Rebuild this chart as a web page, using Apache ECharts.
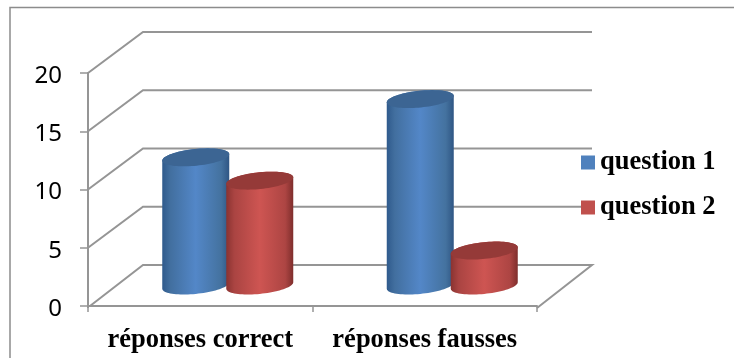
<!DOCTYPE html>
<html>
<head>
<meta charset="utf-8">
<style>
  html, body { margin: 0; padding: 0; background: #fff; }
  #chart { width: 734px; height: 358px; }
</style>
</head>
<body>
<div id="chart"></div>
<script src="https://cdn.jsdelivr.net/npm/echarts@6/dist/echarts.min.js"></script>
<script>
const categories = ['réponses correct', 'réponses fausses'];
const question1 = [11, 16];
const question2 = [9, 3];
const yTicks = [0, 5, 10, 15, 20];

const lineColor = '#959595';
// depth of the fake 3d box, in pixels
const depthX = 55;
const depthY = -41;
const floorDrop = 2;
const barHalf = 33.5;
const barOffset = 32;
const skewX = 12;
const skewY = 9;

const blueStops = ['#2f5a8c', '#426f9f', '#5387c8', '#44729f', '#2f5684'];
const redStops = ['#8a3331', '#aa4442', '#ce5552', '#ad4543', '#7f2e2c'];

function renderWall(params, api) {
  const v = api.value(1);
  const band = api.size([1, 0])[0];
  const p = api.coord([0, v]);
  const left = p[0] - band / 2;
  const right = left + band * categories.length;
  const lineStyle = { stroke: lineColor, lineWidth: 2, fill: null };
  const points = v === 0
    ? [[left + 2, p[1]], [left + depthX, p[1] + depthY], [right + depthX, p[1] + depthY], [right, p[1] + floorDrop]]
    : [[left, p[1]], [left + depthX, p[1] + depthY], [right + depthX, p[1] + depthY]];
  const children = [{ type: 'polyline', shape: { points }, style: lineStyle }];
  if (v === 0) {
    children.push({ type: 'line', shape: { x1: left, y1: p[1] - 1, x2: left, y2: p[1] + floorDrop }, style: lineStyle });
  }
  return { type: 'group', children };
}

// ring of a sheared circle lying on the floor plane
function ringPoint(cx, cy, t) {
  const w = Math.sqrt(barHalf * barHalf - skewX * skewX);
  return [cx + w * Math.cos(t) + skewX * Math.sin(t), cy - skewY * Math.sin(t)];
}

function makeCylinder(offsetSign, stops, capColor) {
  return function (params, api) {
    const cat = api.value(0);
    const top = api.coord([cat, api.value(1)]);
    const base = api.coord([cat, 0]);
    const cx = top[0] + depthX / 2 + offsetSign * barOffset;
    const topY = top[1] + depthY / 2;
    const baseY = base[1] + depthY / 2;
    // angle of the right-most point on the ring
    const t0 = Math.atan2(skewX, Math.sqrt(barHalf * barHalf - skewX * skewX));
    const body = [];
    for (let i = 0; i <= 40; i++) {
      body.push(ringPoint(cx, topY, t0 + (Math.PI * i) / 40));
    }
    for (let i = 0; i <= 40; i++) {
      body.push(ringPoint(cx, baseY, t0 + Math.PI + (Math.PI * i) / 40));
    }
    const cap = [];
    for (let i = 0; i < 80; i++) {
      cap.push(ringPoint(cx, topY, (i / 80) * Math.PI * 2));
    }
    return {
      type: 'group',
      children: [
        {
          type: 'polygon',
          shape: { points: body },
          style: {
            fill: new echarts.graphic.LinearGradient(0, 0, 1, 0, [
              { offset: 0, color: stops[0] },
              { offset: 0.12, color: stops[1] },
              { offset: 0.5, color: stops[2] },
              { offset: 0.88, color: stops[3] },
              { offset: 1, color: stops[4] }
            ])
          }
        },
        { type: 'polygon', shape: { points: cap }, style: { fill: capColor } }
      ]
    };
  };
}

const chart = echarts.init(document.getElementById('chart'));
chart.setOption({
  backgroundColor: '#fff',
  animation: false,
  graphic: [
    {
      type: 'polyline',
      silent: true,
      shape: { points: [[10, 358], [10, 7.5], [734, 7.5]] },
      style: { stroke: '#8c8c8c', lineWidth: 1.5, fill: null }
    }
  ],
  legend: {
    data: ['question 1', 'question 2'],
    orient: 'vertical',
    left: 581,
    top: 149,
    padding: 0,
    itemWidth: 14,
    itemHeight: 14,
    itemGap: 18,
    icon: 'rect',
    textStyle: { fontFamily: 'Liberation Serif', fontWeight: 'bold', fontSize: 26.5, color: '#000' }
  },
  grid: { left: 88, right: 197, top: 73, bottom: 52 },
  xAxis: {
    type: 'category',
    data: categories,
    offset: floorDrop,
    axisLine: { lineStyle: { color: lineColor, width: 2 } },
    axisTick: { show: true, interval: 0, length: 6, lineStyle: { color: lineColor, width: 1.5 } },
    axisLabel: { interval: 0, fontFamily: 'Liberation Serif', fontWeight: 'bold', fontSize: 26.5, color: '#000', margin: 19 },
    splitLine: { show: false }
  },
  yAxis: {
    type: 'value',
    min: 0,
    max: 20,
    interval: 5,
    axisLine: { show: true, lineStyle: { color: lineColor, width: 2 } },
    axisTick: { show: true, length: 8, lineStyle: { color: lineColor, width: 1.5 } },
    axisLabel: { fontFamily: 'Noto Sans', fontSize: 24, color: '#000', margin: 26, verticalAlign: 'top', lineHeight: 6 },
    splitLine: { show: false }
  },
  series: [
    {
      name: 'walls',
      type: 'custom',
      silent: true,
      z: 1,
      renderItem: renderWall,
      data: yTicks.map(v => [0, v]),
      encode: { x: 0, y: 1 }
    },
    {
      name: 'question 1',
      type: 'custom',
      z: 3,
      itemStyle: { color: '#4f81bd' },
      renderItem: makeCylinder(-1, blueStops, '#3c6593'),
      data: question1.map((v, i) => [i, v]),
      encode: { x: 0, y: 1 }
    },
    {
      name: 'question 2',
      type: 'custom',
      z: 4,
      itemStyle: { color: '#c0504d' },
      renderItem: makeCylinder(1, redStops, '#953a38'),
      data: question2.map((v, i) => [i, v]),
      encode: { x: 0, y: 1 }
    }
  ]
});
</script>
</body>
</html>
